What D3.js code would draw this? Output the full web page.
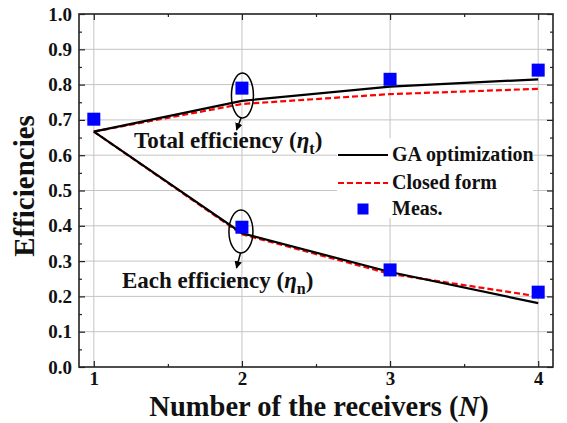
<!DOCTYPE html>
<html><head><meta charset="utf-8">
<script src="https://cdn.jsdelivr.net/npm/d3@7"></script>
<style>body{margin:0;background:#fff}svg text{font-family:"Liberation Serif","Times New Roman",serif;font-weight:bold}</style>
</head><body><svg id="c" width="567" height="423"></svg>
<script>
// Data
const N = [1, 2, 3, 4];
const totalGA = [0.667, 0.754, 0.794, 0.815];
const totalClosed = [0.667, 0.745, 0.773, 0.788];
const eachGA = [0.667, 0.379, 0.269, 0.181];
const eachClosed = [0.667, 0.376, 0.264, 0.200];
const measN = [1, 2, 3, 4, 2, 3, 4];
const measVal = [0.702, 0.790, 0.815, 0.841, 0.396, 0.275, 0.212];
const xTicks = [1, 2, 3, 4];
const yTicks = [0.0,0.1,0.2,0.3,0.4,0.5,0.6,0.7,0.8,0.9,1.0];
const legendLabels = ["GA optimization", "Closed form", "Meas."];

const svg = d3.select("#c");
const L = 79, T = 14, R = 553, B = 367;
const x = d3.scaleLinear().domain([0.9, 4.1]).range([L, R]);
const y = d3.scaleLinear().domain([0, 1]).range([B, T]);

// grid
const g = svg.append("g");
g.selectAll("line.hy").data(yTicks.filter(v => v > 0 && v < 1)).join("line")
  .attr("x1", L).attr("x2", R).attr("y1", d => y(d)).attr("y2", d => y(d))
  .attr("stroke", "#c4c4c4").attr("stroke-width", 1);
g.selectAll("line.vx").data(xTicks).join("line")
  .attr("y1", T).attr("y2", B).attr("x1", d => x(d)).attr("x2", d => x(d))
  .attr("stroke", "#c4c4c4").attr("stroke-width", 1);

// legend background
svg.append("rect").attr("x", 337).attr("y", 138).attr("width", 196).attr("height", 80).attr("fill", "#fff");

// axes (ticks inward)
const minorX = d3.range(1.5, 4, 1);
const yMinor = d3.range(0.05, 1, 0.1);
const axB = d3.axisBottom(x).tickValues(xTicks).tickSizeInner(-6).tickSizeOuter(0).tickFormat(d3.format("d")).tickPadding(5);
const axL = d3.axisLeft(y).tickValues(yTicks).tickSizeInner(-6).tickSizeOuter(0).tickFormat(d3.format(".1f")).tickPadding(7);
const gb = svg.append("g").attr("transform", `translate(0,${B})`).call(axB);
const gl = svg.append("g").attr("transform", `translate(${L},0)`).call(axL);
svg.append("g").attr("transform", `translate(0,${T})`).call(d3.axisTop(x).tickValues(xTicks).tickSizeInner(-6).tickSizeOuter(0).tickFormat(""));
svg.append("g").attr("transform", `translate(${R},0)`).call(d3.axisRight(y).tickValues(yTicks).tickSizeInner(-6).tickSizeOuter(0).tickFormat(""));
svg.append("g").attr("transform", `translate(0,${B})`).call(d3.axisBottom(x).tickValues(minorX).tickSizeInner(-3).tickSizeOuter(0).tickFormat(""));
svg.append("g").attr("transform", `translate(0,${T})`).call(d3.axisTop(x).tickValues(minorX).tickSizeInner(-3).tickSizeOuter(0).tickFormat(""));
svg.append("g").attr("transform", `translate(${L},0)`).call(d3.axisLeft(y).tickValues(yMinor).tickSizeInner(-3).tickSizeOuter(0).tickFormat(""));
svg.append("g").attr("transform", `translate(${R},0)`).call(d3.axisRight(y).tickValues(yMinor).tickSizeInner(-3).tickSizeOuter(0).tickFormat(""));
svg.selectAll(".domain").remove();
svg.selectAll(".tick line").attr("stroke", "#222").attr("stroke-width", 1.2);
gb.selectAll("text").attr("font-size", 19).attr("fill", "#111");
gl.selectAll("text").attr("font-size", 19).attr("fill", "#111");

svg.append("rect").attr("x", L).attr("y", T).attr("width", R - L).attr("height", B - T)
  .attr("fill", "none").attr("stroke", "#222").attr("stroke-width", 1.6);

// lines
const line = d3.line().x(d => x(d[0])).y(d => y(d[1]));
function draw(vals, color, dash) {
  svg.append("path").datum(N.map((n, i) => [n, vals[i]])).attr("d", line)
    .attr("fill", "none").attr("stroke", color).attr("stroke-width", 2.2)
    .attr("stroke-dasharray", dash);
}
draw(totalClosed, "#ff0000", "6,3");
draw(eachClosed, "#ff0000", "6,3");
draw(totalGA, "#000", null);
draw(eachGA, "#000", null);

// markers
const s = 13;
svg.selectAll("rect.m").data(measN.map((n, i) => [n, measVal[i]])).join("rect")
  .attr("x", d => x(d[0]) - s / 2).attr("y", d => y(d[1]) - s / 2)
  .attr("width", s).attr("height", s).attr("fill", "#0000ff");

// annotations
const defs = svg.append("defs");
defs.append("marker").attr("id", "ah").attr("viewBox", "0 0 10 10").attr("refX", 9).attr("refY", 5)
  .attr("markerWidth", 5).attr("markerHeight", 5).attr("orient", "auto")
  .append("path").attr("d", "M0,0L10,5L0,10z").attr("fill", "#000");
function ell(cx, cy, rx, ry, ax1, ay1, ax2, ay2) {
  svg.append("ellipse").attr("cx", cx).attr("cy", cy).attr("rx", rx).attr("ry", ry)
    .attr("fill", "none").attr("stroke", "#000").attr("stroke-width", 1.5);
  svg.append("line").attr("x1", ax1).attr("y1", ay1).attr("x2", ax2).attr("y2", ay2)
    .attr("stroke", "#000").attr("stroke-width", 1.5).attr("marker-end", "url(#ah)");
}
ell(x(2) + 0.5, 95.5, 11, 22.5, 241, 118, 236.5, 130);
ell(x(2) - 1, 231.5, 12, 21.5, 240.5, 253, 236.5, 268);

function label(tx, ty, main, sub) {
  const t = svg.append("text").attr("x", tx).attr("y", ty).attr("font-size", 23).attr("fill", "#111");
  t.append("tspan").text(main + " (");
  t.append("tspan").attr("font-style", "italic").text("η");
  t.append("tspan").attr("font-size", 16).attr("dy", 6).text(sub);
  t.append("tspan").attr("dy", -6).text(")");
}
label(134, 148, "Total efficiency", "t");
label(122, 288, "Each efficiency", "n");

// legend
const lx1 = 338, lx2 = 388, ly = [155, 183, 209];
svg.append("line").attr("x1", lx1).attr("x2", lx2).attr("y1", ly[0]).attr("y2", ly[0]).attr("stroke", "#000").attr("stroke-width", 2.2);
svg.append("line").attr("x1", lx1).attr("x2", lx2).attr("y1", ly[1]).attr("y2", ly[1]).attr("stroke", "#ff0000").attr("stroke-width", 2.2).attr("stroke-dasharray", "6,3");
svg.append("rect").attr("x", 363 - 5.5).attr("y", ly[2] - 5.5).attr("width", 11).attr("height", 11).attr("fill", "#0000ff");
svg.selectAll("text.lg").data(legendLabels).join("text")
  .attr("x", 392).attr("y", (d, i) => ly[i] + 6).attr("font-size", 20).attr("fill", "#111").text(d => d);

// titles
const xt = svg.append("text").attr("x", 319).attr("y", 416).attr("text-anchor", "middle").attr("font-size", 28.5).attr("fill", "#111");
xt.append("tspan").text("Number of the receivers (");
xt.append("tspan").attr("font-style", "italic").text("N");
xt.append("tspan").text(")");
svg.append("text").attr("transform", "translate(34,186) rotate(-90)").attr("text-anchor", "middle")
  .attr("font-size", 29).attr("fill", "#111").text("Efficiencies");
</script></body></html>
